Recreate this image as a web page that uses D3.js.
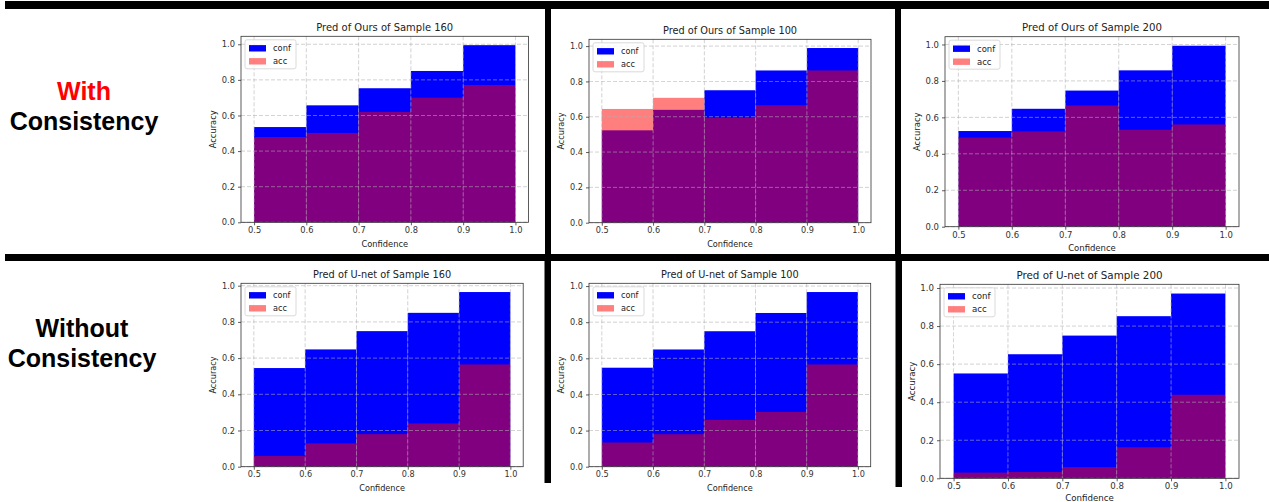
<!DOCTYPE html>
<html><head><meta charset="utf-8">
<script src="https://cdn.jsdelivr.net/npm/d3@7"></script>
<style>body{margin:0;background:#fff}svg{display:block}</style>
</head><body>
<svg id="c" width="1269" height="502"></svg>
<script>
// ---------------- data ----------------
const binEdges = [0.5, 0.6, 0.7, 0.8, 0.9, 1.0];
const xTickValues = [0.5, 0.6, 0.7, 0.8, 0.9, 1.0];
const yTickValues = [0.0, 0.2, 0.4, 0.6, 0.8, 1.0];
const seriesNames = ["conf", "acc"];
const rowLabels = [["With", "Consistency"], ["Without", "Consistency"]];
const panelTitles = [
  "Pred of Ours of Sample 160", "Pred of Ours of Sample 100", "Pred of Ours of Sample 200",
  "Pred of U-net of Sample 160", "Pred of U-net of Sample 100", "Pred of U-net of Sample 200"
];
const xLabel = "Confidence";
const yLabel = "Accuracy";

const confOurs160 = [0.535, 0.657, 0.753, 0.850, 0.995];
const accOurs160  = [0.479, 0.502, 0.620, 0.700, 0.771];
const confOurs100 = [0.523, 0.639, 0.750, 0.862, 0.989];
const accOurs100  = [0.644, 0.707, 0.593, 0.665, 0.862];
const confOurs200 = [0.525, 0.647, 0.747, 0.858, 0.993];
const accOurs200  = [0.489, 0.523, 0.665, 0.532, 0.561];
const confUnet160 = [0.545, 0.648, 0.749, 0.850, 0.965];
const accUnet160  = [0.059, 0.129, 0.180, 0.239, 0.565];
const confUnet100 = [0.548, 0.649, 0.750, 0.851, 0.967];
const accUnet100  = [0.134, 0.180, 0.259, 0.303, 0.566];
const confUnet200 = [0.551, 0.652, 0.750, 0.852, 0.971];
const accUnet200  = [0.030, 0.033, 0.059, 0.163, 0.439];

const panels = [
  {title: panelTitles[0], conf: confOurs160, acc: accOurs160},
  {title: panelTitles[1], conf: confOurs100, acc: accOurs100},
  {title: panelTitles[2], conf: confOurs200, acc: accOurs200},
  {title: panelTitles[3], conf: confUnet160, acc: accUnet160},
  {title: panelTitles[4], conf: confUnet100, acc: accUnet100},
  {title: panelTitles[5], conf: confUnet200, acc: accUnet200}
];

// ---------------- layout (axes frames in px) ----------------
const frames = [
  {l: 241, r: 528.5, t: 36.3, b: 222.3, xl: 24.5},
  {l: 589, r: 871,   t: 39.3, b: 222.7, xl: 24.5},
  {l: 945, r: 1239,  t: 36.7, b: 226.7, xl: 24.5},
  {l: 241, r: 523.2, t: 283.3, b: 466.7, xl: 24.5},
  {l: 589, r: 870.7, t: 283.3, b: 466.7, xl: 24.5},
  {l: 940, r: 1239,  t: 284.3, b: 478.3, xl: 22.5}
];
const dividers = [
  {x: 5, y: 1, w: 1264, h: 8},
  {x: 5, y: 254, w: 1264, h: 7},
  {x: 545, y: 9, w: 6, h: 245},
  {x: 895, y: 9, w: 6, h: 245},
  {x: 544.5, y: 261, w: 6.5, h: 222},
  {x: 895.5, y: 261, w: 6.5, h: 226}
];
const rowLabelPos = [{cx: 84, y1: 100, y2: 130}, {cx: 82, y1: 337, y2: 367}];

const colors = {conf: "#0000ff", acc: "#ff0000"};
const FONT = "'DejaVu Sans', sans-serif";

const svg = d3.select("#c");
svg.append("rect").attr("width", 1269).attr("height", 502).attr("fill", "#fff");

// row labels
rowLabels.forEach((lab, i) => {
  const p = rowLabelPos[i];
  svg.append("text").attr("x", p.cx).attr("y", p.y1).attr("text-anchor", "middle")
    .attr("font-family", "'Liberation Sans', Arial, sans-serif").attr("font-weight", "bold")
    .attr("font-size", 25).attr("fill", i === 0 ? "#ff0000" : "#000").text(lab[0]);
  svg.append("text").attr("x", p.cx).attr("y", p.y2).attr("text-anchor", "middle")
    .attr("font-family", "'Liberation Sans', Arial, sans-serif").attr("font-weight", "bold")
    .attr("font-size", 25).attr("fill", "#000").text(lab[1]);
});

const bins = d3.pairs(binEdges);

panels.forEach((p, i) => {
  const f = frames[i];
  const ymax = 1.05 * d3.max([...p.conf, ...p.acc]);
  const x = d3.scaleLinear().domain([0.475, 1.025]).range([f.l, f.r]);
  const y = d3.scaleLinear().domain([0, ymax]).range([f.b, f.t]);
  const fs = (f.r - f.l) / 287.5 * 8.3;
  const g = svg.append("g");

  // bars
  seriesNames.forEach(s => {
    g.selectAll("rect." + s).data(bins).join("rect").attr("class", s)
      .attr("x", d => x(d[0])).attr("width", d => x(d[1]) - x(d[0]))
      .attr("y", (d, j) => y(p[s][j])).attr("height", (d, j) => y(0) - y(p[s][j]))
      .attr("fill", colors[s]).attr("fill-opacity", s === "acc" ? 0.5 : 1);
  });

  // grid
  g.selectAll("line.gx").data(xTickValues).join("line").attr("class", "gx")
    .attr("x1", d => x(d)).attr("x2", d => x(d)).attr("y1", f.t).attr("y2", f.b)
    .attr("stroke", "#b0b0b0").attr("stroke-width", 0.8).attr("stroke-dasharray", "4,2").attr("opacity", 0.7);
  g.selectAll("line.gy").data(yTickValues).join("line").attr("class", "gy")
    .attr("x1", f.l).attr("x2", f.r).attr("y1", d => y(d)).attr("y2", d => y(d))
    .attr("stroke", "#b0b0b0").attr("stroke-width", 0.8).attr("stroke-dasharray", "4,2").attr("opacity", 0.7);

  // axes
  const xa = g.append("g").attr("transform", `translate(0,${f.b})`)
    .call(d3.axisBottom(x).tickValues(xTickValues).tickFormat(d3.format(".1f")).tickSize(3).tickSizeOuter(0).tickPadding(2));
  const ya = g.append("g").attr("transform", `translate(${f.l},0)`)
    .call(d3.axisLeft(y).tickValues(yTickValues).tickFormat(d3.format(".1f")).tickSize(3).tickSizeOuter(0).tickPadding(3));
  [xa, ya].forEach(a => {
    a.select(".domain").remove();
    a.selectAll(".tick line").attr("stroke", "#333").attr("stroke-width", 0.8);
    a.selectAll(".tick text").attr("font-family", FONT).attr("font-size", fs).attr("fill", "#333");
  });

  // spines
  g.append("rect").attr("x", f.l).attr("y", f.t).attr("width", f.r - f.l).attr("height", f.b - f.t)
    .attr("fill", "none").attr("stroke", "#333").attr("stroke-width", 0.8);

  // title & labels
  const cx = (f.l + f.r) / 2;
  g.append("text").attr("x", cx).attr("y", f.t - 5.5).attr("text-anchor", "middle")
    .attr("font-family", FONT).attr("font-size", fs * 1.2).attr("fill", "#222").text(p.title);
  g.append("text").attr("x", cx).attr("y", f.b + f.xl).attr("text-anchor", "middle")
    .attr("font-family", FONT).attr("font-size", fs).attr("fill", "#222").text(xLabel);
  g.append("text").attr("transform", `translate(${f.l - 25.5},${(f.t + f.b) / 2}) rotate(-90)`)
    .attr("text-anchor", "middle").attr("font-family", FONT).attr("font-size", fs).attr("fill", "#222").text(yLabel);

  // legend
  const lg = g.append("g").attr("transform", `translate(${f.l + 4},${f.t + 3.5})`);
  lg.append("rect").attr("width", 51).attr("height", 29).attr("rx", 2)
    .attr("fill", "#fff").attr("fill-opacity", 0.8).attr("stroke", "#d0d0d0").attr("stroke-width", 0.8);
  seriesNames.forEach((s, k) => {
    const cy = 8.5 + k * 13;
    lg.append("rect").attr("x", 4).attr("y", cy - 3.2).attr("width", 17).attr("height", 6.4)
      .attr("fill", colors[s]).attr("fill-opacity", s === "acc" ? 0.5 : 1);
    lg.append("text").attr("x", 28).attr("y", cy).attr("dy", "0.35em")
      .attr("font-family", FONT).attr("font-size", fs).attr("fill", "#222").text(s);
  });
});

// black dividers
svg.selectAll("rect.div").data(dividers).join("rect").attr("class", "div")
  .attr("x", d => d.x).attr("y", d => d.y).attr("width", d => d.w).attr("height", d => d.h)
  .attr("fill", "#000");
</script>
</body></html>
